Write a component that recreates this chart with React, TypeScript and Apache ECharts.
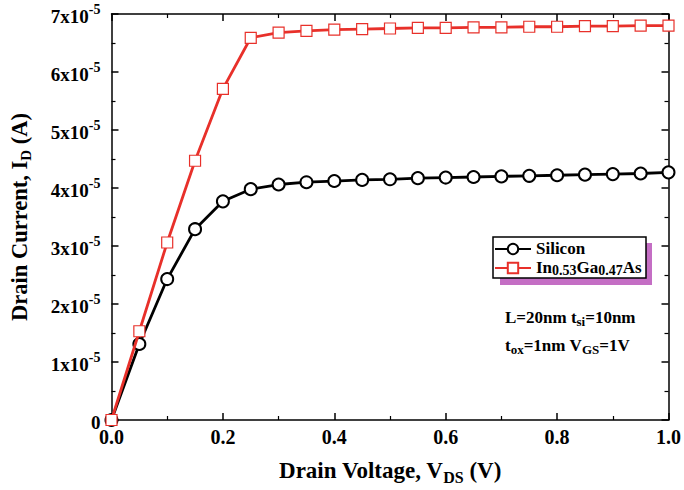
import React, { useEffect, useRef } from "react";
import * as echarts from "echarts";

const vds = [0, 0.05, 0.1, 0.15, 0.2, 0.25, 0.3, 0.35, 0.4, 0.45, 0.5, 0.55, 0.6, 0.65, 0.7, 0.75, 0.8, 0.85, 0.9, 0.95, 1.0];
const silicon = [0, 1.31, 2.43, 3.29, 3.77, 3.98, 4.06, 4.10, 4.12, 4.14, 4.15, 4.17, 4.18, 4.19, 4.20, 4.21, 4.22, 4.23, 4.24, 4.25, 4.27];
const ingaas = [0, 1.53, 3.06, 4.47, 5.71, 6.59, 6.68, 6.71, 6.73, 6.74, 6.75, 6.76, 6.76, 6.77, 6.77, 6.78, 6.78, 6.79, 6.79, 6.80, 6.80];
const seriesNames = ["Silicon", "In0.53Ga0.47As"];

const FONT = "Liberation Serif";

export default function App() {
  const ref = useRef<HTMLDivElement>(null);
  useEffect(() => {
    if (!ref.current) return;
    const chart = echarts.init(ref.current, undefined, { renderer: "svg" });
    const toPts = (arr: number[]) => vds.map((x, i) => [x, arr[i] * 1e-5]);
    const axisCommon = {
      axisLine: { show: true, onZero: false, lineStyle: { color: "#000", width: 1.5 } },
      axisTick: { show: true, inside: true, length: 7, lineStyle: { color: "#000", width: 1.5 } },
      minorTick: { show: true, splitNumber: 2, length: 4, lineStyle: { color: "#000", width: 1.2 } },
      splitLine: { show: false },
    };
    const titleRich = (main: number, sub: number) => ({
      a: { fontFamily: FONT, fontWeight: "bold", fontSize: main, color: "#000", lineHeight: main + 3, verticalAlign: "top" },
      s: { fontFamily: FONT, fontWeight: "bold", fontSize: sub, color: "#000", lineHeight: sub, verticalAlign: "bottom" },
    });
    const textRich = (main: number, sub: number) => ({
      a: { fontFamily: FONT, fontWeight: "bold", fontSize: main, fill: "#000", lineHeight: main + 2, verticalAlign: "top" },
      s: { fontFamily: FONT, fontWeight: "bold", fontSize: sub, fill: "#000", lineHeight: sub, verticalAlign: "bottom" },
    });
    const option: any = {
      animation: false,
      backgroundColor: "#fff",
      grid: { left: 108, right: 14, top: 14, bottom: 69 },
      xAxis: [
        {
          type: "value",
          min: 0,
          max: 1,
          interval: 0.2,
          ...axisCommon,
          axisLabel: {
            color: "#000",
            fontFamily: FONT,
            fontWeight: "bold",
            fontSize: 20,
            margin: 7,
            formatter: (v: number) => v.toFixed(1),
          },
          name: "{a|Drain Voltage, V}{s|DS}{a| (V)}",
          nameLocation: "middle",
          nameGap: 39,
          nameTextStyle: { rich: titleRich(23, 16) },
        },
        {
          type: "value",
          position: "top",
          min: 0,
          max: 1,
          interval: 0.2,
          ...axisCommon,
          axisLabel: { show: false },
        },
      ],
      yAxis: [
        {
          type: "value",
          min: 0,
          max: 7e-5,
          interval: 1e-5,
          ...axisCommon,
          axisLabel: {
            margin: 11,
            formatter: (v: number) =>
              v === 0 ? "{a|0}" : `{a|${Math.round(v * 1e5)}x10}{b|-5}`,
            rich: {
              a: { fontFamily: FONT, fontWeight: "bold", fontSize: 19, color: "#000", lineHeight: 24, verticalAlign: "bottom" },
              b: { fontFamily: FONT, fontWeight: "bold", fontSize: 14, color: "#000", lineHeight: 14, verticalAlign: "top" },
            },
          },
          name: "{a|Drain Current, I}{s|D}{a| (A)}",
          nameLocation: "middle",
          nameRotate: 90,
          nameGap: 78,
          nameTextStyle: { rich: titleRich(22.5, 15) },
        },
        {
          type: "value",
          position: "right",
          min: 0,
          max: 7e-5,
          interval: 1e-5,
          ...axisCommon,
          axisLabel: { show: false },
        },
      ],
      legend: {
        orient: "vertical",
        left: 494,
        top: 240,
        padding: 0,
        itemGap: 2,
        itemWidth: 36,
        itemHeight: 13,
        z: 10,
        data: seriesNames,
        formatter: (name: string) =>
          name === "Silicon" ? "{a|Silicon}" : "{a|In}{s|0.53}{a|Ga}{s|0.47}{a|As}",
        textStyle: {
          rich: {
            a: { fontFamily: FONT, fontWeight: "bold", fontSize: 17, color: "#000", lineHeight: 18, verticalAlign: "top" },
            s: { fontFamily: FONT, fontWeight: "bold", fontSize: 14, color: "#000", lineHeight: 14, verticalAlign: "bottom" },
          },
        },
      },
      graphic: [
        { type: "rect", z: 5, shape: { x: 500, y: 243, width: 152, height: 42 }, style: { fill: "#c46ec4" } },
        { type: "rect", z: 6, shape: { x: 493, y: 237, width: 153, height: 41 }, style: { fill: "#fff", stroke: "#000", lineWidth: 1.5 } },
        {
          type: "text",
          z: 10,
          left: 505,
          top: 309,
          style: { text: "{a|L=20nm t}{s|si}{a|=10nm}", rich: textRich(17, 13) },
        },
        {
          type: "text",
          z: 10,
          left: 505,
          top: 337,
          style: { text: "{a|t}{s|ox}{a|=1nm V}{s|GS}{a|=1V}", rich: textRich(17, 13) },
        },
      ],
      series: [
        {
          name: "Silicon",
          type: "line",
          data: toPts(silicon),
          symbol: "circle",
          symbolSize: 12,
          clip: false,
          lineStyle: { color: "#000", width: 2.8 },
          itemStyle: { color: "#fff", borderColor: "#000", borderWidth: 2 },
          z: 3,
        },
        {
          name: "In0.53Ga0.47As",
          type: "line",
          data: toPts(ingaas),
          symbol: "rect",
          symbolSize: 11,
          clip: false,
          lineStyle: { color: "#e8302a", width: 2.8 },
          itemStyle: { color: "#fff", borderColor: "#e8302a", borderWidth: 1.2 },
          z: 4,
        },
      ],
    };
    chart.setOption(option);
    return () => chart.dispose();
  }, []);
  return (
    <div
      ref={ref}
      style={{ position: "fixed", left: 0, top: 0, width: 684, height: 490 }}
    />
  );
}
